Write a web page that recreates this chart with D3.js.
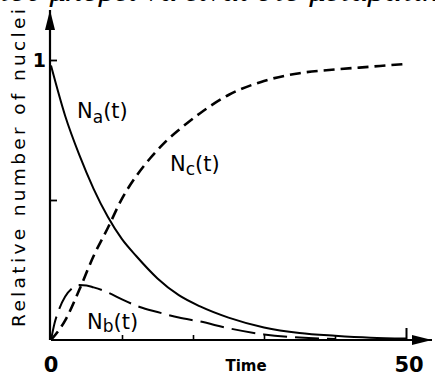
<!DOCTYPE html>
<html>
<head>
<meta charset="utf-8">
<script src="https://cdn.jsdelivr.net/npm/d3@7"></script>
<style>
  body { margin: 0; background: #fff; }
  svg { display: block; }
  text { font-family: "DejaVu Sans", sans-serif; fill: #000; }
</style>
</head>
<body>
<div id="chart"></div>
<script>
// values (t = time, relative number of nuclei)
var tA = [0, 2, 4, 6, 8, 10, 12, 15, 18, 21, 25, 30, 35, 40, 45, 50];
var nA = [0.98, 0.80, 0.66, 0.54, 0.44, 0.36, 0.30, 0.22, 0.16, 0.12, 0.08, 0.045, 0.025, 0.015, 0.008, 0.005];

var tB = [0, 0.5, 1, 2, 3, 4, 5, 6, 8, 10, 12.5, 15, 18, 21, 25, 30, 35, 40];
var nB = [0, 0.06, 0.10, 0.155, 0.185, 0.196, 0.195, 0.188, 0.17, 0.145, 0.118, 0.10, 0.08, 0.066, 0.042, 0.02, 0.009, 0.004];

var tC = [0, 2, 4, 6, 8, 10, 12, 14, 16, 18, 21, 25, 30, 35, 40, 45, 49.5];
var nC = [0, 0.07, 0.18, 0.30, 0.40, 0.505, 0.585, 0.65, 0.705, 0.75, 0.81, 0.875, 0.925, 0.953, 0.966, 0.976, 0.985];

var xTicks = [10, 20, 30, 40];
var xTickLabels = ["0", "50"];
var xTickLabelVals = [0, 50];
var yTicks = [0.5, 1];
var yTickLabels = ["1"];
var yTickLabelVals = [1];

var width = 435, height = 380;

var svg = d3.select("#chart")
  .append("svg")
  .attr("width", width)
  .attr("height", height);

var x = d3.scaleLinear().domain([0, 50]).range([51, 406]);
var y = d3.scaleLinear().domain([0, 1]).range([340, 60]);

// clipped line of text from the page above the figure
svg.append("text")
  .attr("x", -2)
  .attr("y", 1)
  .attr("textLength", 440)
  .attr("lengthAdjust", "spacingAndGlyphs")
  .style("font-family", "'Liberation Serif', serif")
  .style("font-style", "italic")
  .style("font-size", "30px")
  .text("του μπορεί να είναι στο μεταβατικ");

// arrow marker
svg.append("defs").append("marker")
  .attr("id", "arrow")
  .attr("viewBox", "0 0 20 10")
  .attr("refX", 20)
  .attr("refY", 5)
  .attr("markerWidth", 20)
  .attr("markerHeight", 10)
  .attr("markerUnits", "userSpaceOnUse")
  .attr("orient", "auto")
  .append("path")
  .attr("d", "M0,0 L20,5 L0,10 Z")
  .attr("fill", "#000");

// axes lines
svg.append("line")
  .attr("x1", x(0)).attr("y1", y(0))
  .attr("x2", 432).attr("y2", y(0))
  .attr("stroke", "#000").attr("stroke-width", 2.2)
  .attr("marker-end", "url(#arrow)");

svg.append("line")
  .attr("x1", x(0) - 1).attr("y1", y(0))
  .attr("x2", x(0) - 1).attr("y2", 10)
  .attr("stroke", "#000").attr("stroke-width", 2.2)
  .attr("marker-end", "url(#arrow)");

// ticks (inside)
var xAxis = svg.append("g")
  .attr("transform", "translate(0," + y(0) + ")")
  .call(d3.axisBottom(x).tickValues(xTicks).tickSize(-5).tickFormat(""));
xAxis.select(".domain").remove();
xAxis.selectAll("line").attr("stroke-width", 1.6);

var xAxis2 = svg.append("g")
  .attr("transform", "translate(0," + y(0) + ")")
  .call(d3.axisBottom(x).tickValues([50]).tickSize(-12).tickFormat(""));
xAxis2.select(".domain").remove();
xAxis2.selectAll("line").attr("stroke-width", 2);

var yAxis = svg.append("g")
  .attr("transform", "translate(" + (x(0) - 1) + ",0)")
  .call(d3.axisLeft(y).tickValues(yTicks).tickSize(-7).tickFormat(""));
yAxis.select(".domain").remove();
yAxis.selectAll("line").attr("stroke-width", 1.8);

// tick labels
svg.selectAll(".xlab")
  .data(xTickLabelVals)
  .enter().append("text")
  .attr("class", "xlab")
  .attr("x", function(d) { return x(d) + (d === 50 ? 3 : 0); })
  .attr("y", 372)
  .attr("text-anchor", "middle")
  .style("font-size", "21px")
  .style("font-weight", "bold")
  .text(function(d, i) { return xTickLabels[i]; });

svg.selectAll(".ylab")
  .data(yTickLabelVals)
  .enter().append("text")
  .attr("class", "ylab")
  .attr("x", 46)
  .attr("y", function(d) { return y(d) + 7; })
  .attr("text-anchor", "end")
  .style("font-size", "19px")
  .style("font-weight", "bold")
  .text(function(d, i) { return yTickLabels[i]; });

// axis titles
svg.append("text")
  .attr("x", 246)
  .attr("y", 371)
  .attr("text-anchor", "middle")
  .style("font-size", "15px")
  .style("font-weight", "bold")
  .text("Time");

svg.append("text")
  .attr("transform", "translate(25,168)rotate(-90)")
  .attr("text-anchor", "middle")
  .attr("textLength", 318)
  .attr("lengthAdjust", "spacing")
  .style("font-size", "18.5px")
  .text("Relative number of nuclei");

// curves
var line = d3.line()
  .x(function(d) { return x(d[0]); })
  .y(function(d) { return y(d[1]); })
  .curve(d3.curveMonotoneX);

svg.append("path")
  .datum(d3.zip(tA, nA))
  .attr("d", line)
  .attr("fill", "none")
  .attr("stroke", "#000")
  .attr("stroke-width", 2);

svg.append("path")
  .datum(d3.zip(tB, nB))
  .attr("d", line)
  .attr("fill", "none")
  .attr("stroke", "#000")
  .attr("stroke-width", 2)
  .attr("stroke-dasharray", "24,8");

svg.append("path")
  .datum(d3.zip(tC, nC))
  .attr("d", line)
  .attr("fill", "none")
  .attr("stroke", "#000")
  .attr("stroke-width", 2.6)
  .attr("stroke-dasharray", "11,6");

// curve labels
function curveLabel(xp, yp, sub, subDy) {
  var t = svg.append("text")
    .attr("x", xp)
    .attr("y", yp)
    .style("font-size", "21px");
  t.append("tspan").text("N");
  t.append("tspan").attr("dy", subDy).style("font-size", "17px").text(sub);
  t.append("tspan").attr("dy", -subDy).text("(t)");
}
curveLabel(77, 118, "a", 5);
curveLabel(170, 171, "c", 4);
curveLabel(87, 329, "b", 3);
</script>
</body>
</html>
